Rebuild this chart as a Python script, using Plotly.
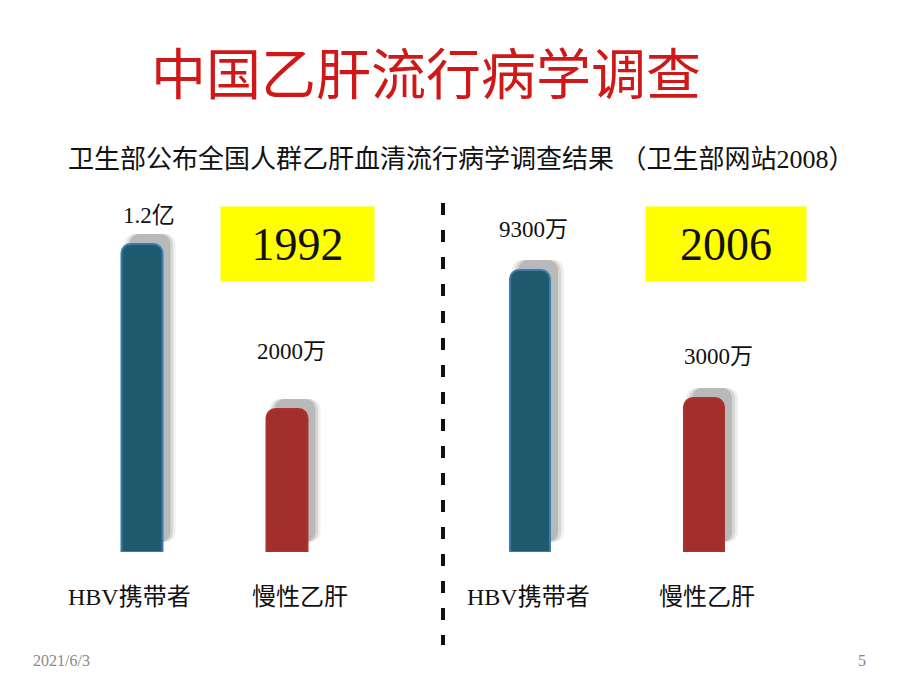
import plotly.graph_objects as go

# ---- data ----
categories = ["HBV携带者", "慢性乙肝"]
years = ["1992", "2006"]
value_labels_1992 = ["1.2亿", "2000万"]
value_labels_2006 = ["9300万", "3000万"]
# drawn bar heights (pictorial, px-like units as drawn on the slide)
heights_1992 = [308, 143]
heights_2006 = [282, 154]
title_text = "中国乙肝流行病学调查"
subtitle_text = "卫生部公布全国人群乙肝血清流行病学调查结果 （卫生部网站2008）"
date_text = "2021/6/3"
page_text = "5"

# ---- styles ----
SERIF = "Liberation Serif, Noto Sans CJK SC, serif"
BLUE = "#1F5B6F"
BLUE_EDGE = "#3B7DAF"
RED = "#A32F2C"
RED_EDGE = "#A83431"
W, H = 920, 690
BOTTOM = 552  # pixel row of bar bases

fig = go.Figure()

def py(pix):  # pixel row -> paper y
    return (BOTTOM - pix) / BOTTOM

def add_panel(axis, heights, width, dx, value_labels, lab_xshift, lab_yshift, cat_xshift):
    colors = [BLUE, RED]
    edges = [BLUE_EDGE, RED_EDGE]
    # blurred drop shadow: layered
    for grow, col in [(0.035, "rgba(190,190,190,0.25)"), (0.018, "rgba(160,160,160,0.30)"),
                      (0.0, "rgba(130,130,130,0.35)")]:
        fig.add_trace(go.Bar(
            x=categories, y=heights, base=[10, 10],
            width=width + 2 * grow, offset=-width / 2 + dx - grow,
            marker=dict(color=col, line=dict(width=0), cornerradius=10),
            xaxis=axis, yaxis="y", hoverinfo="skip", showlegend=False))
    fig.add_trace(go.Bar(
        x=categories, y=heights, width=width, offset=-width / 2,
        marker=dict(color=colors, line=dict(color=edges, width=2), cornerradius=9),
        xaxis=axis, yaxis="y", showlegend=False))
    for c, h, t, xs, ys in zip(categories, heights, value_labels, lab_xshift, lab_yshift):
        fig.add_annotation(x=c, y=h, xref=axis, yref="y", text=t, showarrow=False,
                           xanchor="center", yanchor="bottom", xshift=xs, yshift=ys,
                           font=dict(family=SERIF, size=23, color="#111"))
    # category labels below the bars
    for c, xs in zip(categories, cat_xshift):
        fig.add_annotation(x=c, y=py(597), xref=axis, yref="paper", text=c, showarrow=False,
                           xanchor="center", yanchor="middle", xshift=xs,
                           font=dict(family=SERIF, size=24, color="#111"))

add_panel("x", heights_1992, 0.283, 0.055, value_labels_1992, [7, 4], [14, 43], [-13, 13])
add_panel("x2", heights_2006, 0.23, 0.046, value_labels_2006, [3, 14], [26, 27], [-2, 3])

axis_common = dict(showgrid=False, zeroline=False, showline=False, ticks="",
                   showticklabels=False, range=[-0.5, 1.5], fixedrange=True)
fig.update_layout(
    xaxis=dict(domain=[69.5 / W, 359.5 / W], anchor="y", **axis_common),
    xaxis2=dict(domain=[443 / W, 791 / W], anchor="y", **axis_common),
    yaxis=dict(range=[0, BOTTOM], visible=False, fixedrange=True),
    barmode="overlay",
    width=W, height=H, autosize=False,
    margin=dict(l=0, r=0, t=0, b=H - BOTTOM, pad=0),
    paper_bgcolor="white", plot_bgcolor="rgba(0,0,0,0)",
)

def label(text, xpix, ypix, font, **kw):
    fig.add_annotation(text=text, x=xpix / W, y=py(ypix), xref="paper", yref="paper",
                       xanchor="center", yanchor="middle", showarrow=False, font=font, **kw)

# title and subtitle
label(title_text, 426, 70, dict(family="Noto Sans CJK SC", size=55, color="#D01818"))
label(subtitle_text, 461, 160, dict(family=SERIF, size=26, color="#111"))

# year boxes
for yr, xc, bw in zip(years, [297.5, 726], [151, 158]):
    label(yr, xc, 244, dict(family=SERIF, size=46, color="#111"),
          width=bw, height=72, bgcolor="#FFFF00")

# dashed divider
fig.add_shape(type="line", xref="paper", yref="paper", x0=443 / W, x1=443 / W,
              y0=py(203), y1=py(645), line=dict(color="#111", width=4, dash="12px,15px"))

# footer
label(date_text, 61, 660, dict(family=SERIF, size=16, color="#888"))
label(page_text, 862, 660, dict(family=SERIF, size=16, color="#888"))

fig.write_html("out.html")
